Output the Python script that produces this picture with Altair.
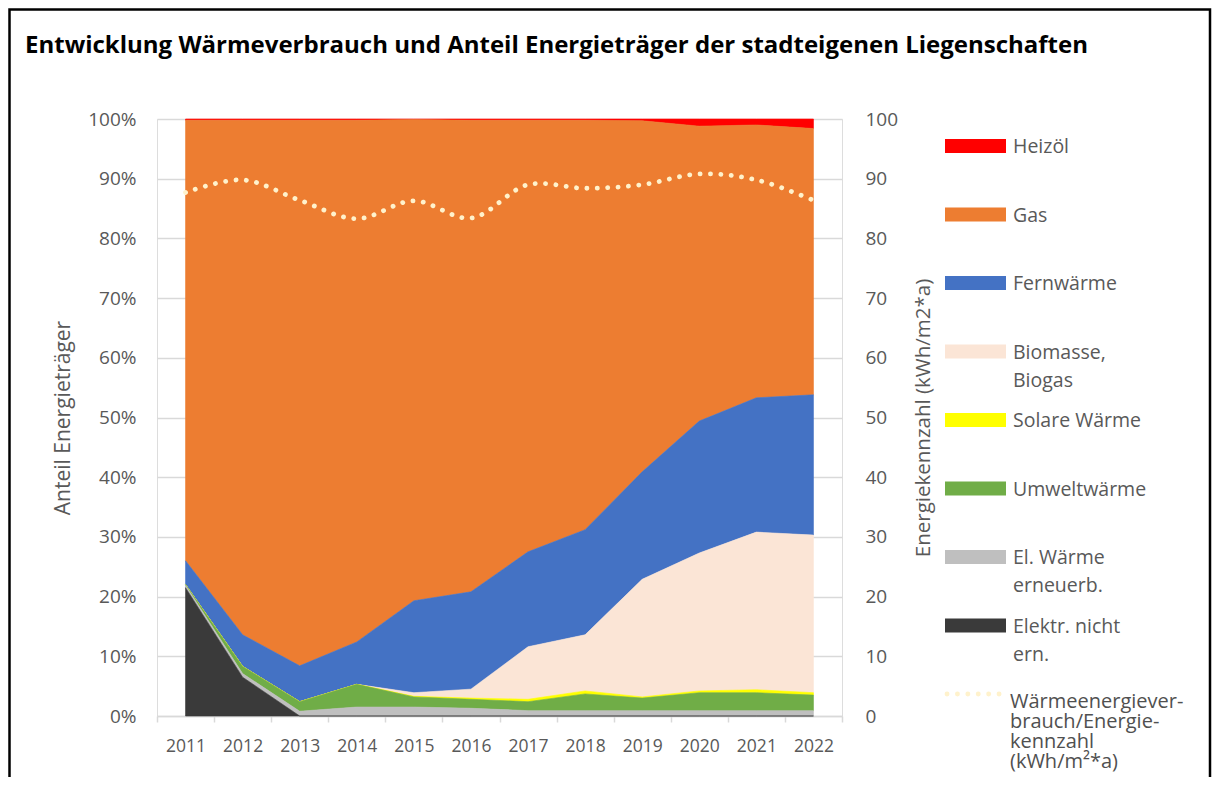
import altair as alt
import pandas as pd

# ---------------- data ----------------
years = ["2011", "2012", "2013", "2014", "2015", "2016", "2017", "2018", "2019", "2020", "2021", "2022"]

heizoel      = [0.2, 0.2, 0.2, 0.2, 0.1, 0.2, 0.2, 0.2, 0.3, 1.2, 1.0, 1.6]
gas          = [73.8, 86.2, 91.4, 87.4, 80.6, 79.0, 72.3, 68.6, 58.8, 49.4, 45.7, 44.6]
fernwaerme   = [4.0, 5.3, 6.0, 7.1, 15.4, 16.3, 15.9, 17.6, 18.0, 22.1, 22.5, 23.5]
biomasse     = [0.0, 0.0, 0.0, 0.0, 0.6, 1.5, 8.8, 9.4, 19.7, 23.1, 26.4, 26.4]
solar        = [0.0, 0.0, 0.0, 0.0, 0.1, 0.2, 0.4, 0.5, 0.2, 0.3, 0.5, 0.4]
umwelt       = [0.1, 1.2, 1.6, 3.8, 1.7, 1.5, 1.5, 2.8, 2.1, 3.0, 3.0, 2.6]
el_erneuerb  = [0.4, 0.6, 0.8, 1.5, 1.5, 1.3, 0.9, 0.9, 0.9, 0.9, 0.9, 0.9]
el_nicht_ern = [21.5, 6.5, 0.0, 0.0, 0.0, 0.0, 0.0, 0.0, 0.0, 0.0, 0.0, 0.0]

kennzahl = [87.7, 89.8, 86.4, 83.3, 86.3, 83.4, 89.0, 88.4, 89.0, 90.8, 89.8, 86.4]

series_names = ["Heizöl", "Gas", "Fernwärme", "Biomasse, Biogas", "Solare Wärme",
                "Umweltwärme", "El. Wärme erneuerb.", "Elektr. nicht ern."]
series_values = [heizoel, gas, fernwaerme, biomasse, solar, umwelt, el_erneuerb, el_nicht_ern]
series_colors = ["#FF0000", "#ED7D31", "#4472C4", "#FBE5D6", "#FFFF00",
                 "#70AD47", "#BFBFBF", "#3A3A3A"]

line_name = "Wärmeenergieverbrauch/Energiekennzahl (kWh/m²*a)"
legend_names = series_names + [line_name]
legend_labels = ["Heizöl", "Gas", "Fernwärme", "Biomasse,\nBiogas", "Solare Wärme",
                 "Umweltwärme", "El. Wärme\nerneuerb.", "Elektr. nicht\nern.",
                 "Wärmeenergiever-\nbrauch/Energie-\nkennzahl\n(kWh/m²*a)"]

title_text = "Entwicklung Wärmeverbrauch und Anteil Energieträger der stadteigenen Liegenschaften"
left_title = "Anteil Energieträger"
right_title = "Energiekennzahl (kWh/m2*a)"

# ---------------- tables ----------------
rows = []
n = len(series_names)
for i, (name, vals) in enumerate(zip(series_names, series_values)):
    for y, v in zip(years, vals):
        rows.append({"year": y, "series": name, "value": v, "stack_order": n - i})
df_area = pd.DataFrame(rows)
df_line = pd.DataFrame({"year": years, "kz": kennzahl})
df_leg = pd.DataFrame({"name": legend_names, "label": legend_labels,
                       "kind": ["box"] * len(series_names) + ["line"]})
df_one = pd.DataFrame({"a": [0]})

FONT = "Open Sans"
GREY_TXT = "#595959"

color_scale = alt.Scale(domain=series_names, range=series_colors)

x_enc = alt.X("year:O",
              scale=alt.Scale(type="band", paddingInner=0, paddingOuter=0),
              bandPosition=0.5,
              axis=alt.Axis(title=None, labelAngle=0, tickBand="extent",
                            domainColor="#D9D9D9", domainWidth=1.5,
                            tickColor="#D9D9D9", tickWidth=1.5, tickSize=6,
                            labelPadding=15, labelFontSize=17.5, labelColor=GREY_TXT,
                            labelFont=FONT, grid=False))

areas = alt.Chart(df_area).mark_area(strokeWidth=0.6).encode(
    x=x_enc,
    y=alt.Y("value:Q", stack="zero",
            scale=alt.Scale(domain=[0, 100], nice=False),
            axis=alt.Axis(orient="left", values=list(range(0, 101, 10)),
                          labelExpr="datum.value + '%'", ticks=False, tickSize=0,
                          domain=False, labelPadding=21, labelFontSize=19,
                          labelColor=GREY_TXT, labelFont=FONT,
                          grid=True, gridColor="#D9D9D9", gridWidth=1.3,
                          title=left_title, titleFont=FONT, titleFontSize=21,
                          titleFontWeight="normal", titleColor=GREY_TXT,
                          titlePadding=14)),
    color=alt.Color("series:N", scale=color_scale, legend=None),
    stroke=alt.Stroke("series:N", scale=color_scale, legend=None),
    order=alt.Order("stack_order:Q"),
)

line = alt.Chart(df_line).mark_line(
    interpolate="catmull-rom", strokeDash=[0.1, 10.3], strokeCap="round",
    strokeWidth=4.8, color="#FFF2CC"
).encode(
    x=x_enc,
    y=alt.Y("kz:Q", scale=alt.Scale(domain=[0, 100], nice=False),
            axis=alt.Axis(orient="right", values=list(range(0, 101, 10)),
                          ticks=False, tickSize=0, domain=False, grid=False,
                          labelPadding=23, labelFontSize=19, labelColor=GREY_TXT,
                          labelFont=FONT, title=right_title, titleFont=FONT,
                          titleFontSize=20.5, titleFontWeight="normal",
                          titleColor=GREY_TXT, titleAngle=270, titlePadding=36)),
)

leg_y = alt.Y("name:N", scale=alt.Scale(type="point", domain=legend_names,
                                        range=[27, 575], padding=0), axis=None)

leg_boxes = alt.Chart(df_leg).transform_filter("datum.kind == 'box'").mark_rule(
    strokeWidth=14, strokeCap="butt"
).encode(
    x=alt.value(788), x2=alt.value(849), y=leg_y,
    color=alt.Color("name:N", scale=color_scale, legend=None),
)

leg_dots = alt.Chart(df_leg).transform_filter("datum.kind == 'line'").mark_rule(
    strokeWidth=4.8, strokeDash=[0.1, 10.3], strokeCap="round", color="#FFF2CC"
).encode(x=alt.value(790), x2=alt.value(849), y=leg_y)

leg_text = alt.Chart(df_leg).transform_filter("datum.kind == 'box'").mark_text(
    align="left", baseline="alphabetic", dy=7, lineBreak="\n", lineHeight=28,
    fontSize=19.5, font=FONT, color=GREY_TXT
).encode(x=alt.value(856), y=leg_y, text="label:N")

leg_text2 = alt.Chart(df_leg).transform_filter("datum.kind == 'line'").mark_text(
    align="left", baseline="alphabetic", dy=14, lineBreak="\n", lineHeight=20,
    fontSize=20, font=FONT, color="#505050"
).encode(x=alt.value(853), y=leg_y, text="label:N")

title = alt.Chart(df_one).mark_text(
    align="left", baseline="alphabetic", fontSize=24, fontWeight="bold",
    font=FONT, color="#000000"
).encode(x=alt.value(-132), y=alt.value(-66), text=alt.value(title_text))

frame = alt.Chart(df_one).mark_rect(
    fill=None, fillOpacity=0, stroke="#000000", strokeWidth=2.5
).encode(x=alt.value(-147.5), x2=alt.value(1053),
         y=alt.value(-109.5), y2=alt.value(700))

chart = alt.layer(
    frame, title, areas, line, leg_boxes, leg_dots, leg_text, leg_text2
).resolve_scale(
    y="independent"
).properties(
    width=685, height=597,
    padding={"left": 149, "top": 111, "right": 370, "bottom": 61},
    autosize=alt.AutoSizeParams(type="none"),
).configure_view(stroke=None).configure(background="white")

chart.save("out.html", embed_options={"renderer": "svg", "actions": False})
